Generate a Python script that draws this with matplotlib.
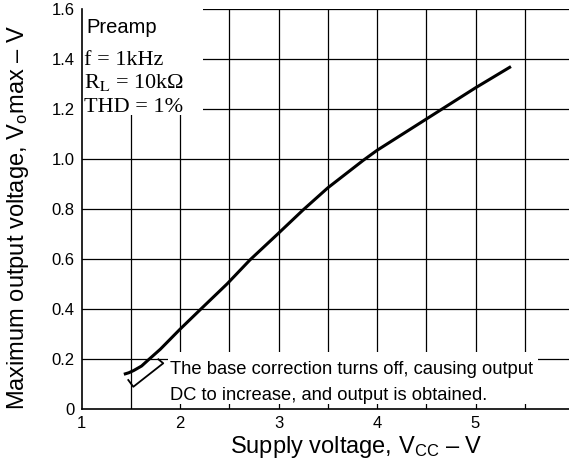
import matplotlib
matplotlib.use('Agg')
import matplotlib.pyplot as plt
from matplotlib.patches import Rectangle

# ---- data ----
vcc = [1.43, 1.48, 1.53, 1.61, 1.68, 1.80, 1.90, 2.00, 2.21, 2.48, 2.71, 2.99,
       3.25, 3.50, 3.86, 4.00, 4.32, 4.62, 5.00, 5.36]
vomax = [0.140, 0.146, 0.155, 0.173, 0.198, 0.240, 0.280, 0.320, 0.400, 0.502,
         0.597, 0.700, 0.797, 0.885, 0.995, 1.035, 1.115, 1.190, 1.285, 1.370]
x_ticks = [1, 2, 3, 4, 5, 6]
x_ticklabels = ['1', '2', '3', '4', '5', '6']
y_ticks = [0, 0.2, 0.4, 0.6, 0.8, 1.0, 1.2, 1.4, 1.6]
y_ticklabels = ['0', '0.2', '0.4', '0.6', '0.8', '1.0', '1.2', '1.4', '1.6']
x_grid = [1.5, 2.0, 2.5, 3.0, 3.5, 4.0, 4.5, 5.0, 5.5, 6.0]
y_grid = [0.2, 0.4, 0.6, 0.8, 1.0, 1.2, 1.4, 1.6]

# annotation bracket (decoration)
bracket_x = [1.475, 1.526, 1.830, 1.780]
bracket_y = [0.117, 0.090, 0.184, 0.200]

plt.rcParams['font.family'] = ['Liberation Sans', 'DejaVu Sans']
plt.rcParams['mathtext.fontset'] = 'custom'
plt.rcParams['mathtext.rm'] = 'Liberation Sans'
plt.rcParams['mathtext.it'] = 'Liberation Sans:italic'

W, H = 569, 463
fig = plt.figure(figsize=(W / 100, H / 100), dpi=100)
ax = fig.add_axes([81.5 / W, (H - 409.3) / H, 492.5 / W, 400.3 / H])
ax.set_xlim(1, 6)
ax.set_ylim(0, 1.6)

for gx in x_grid:
    ax.axvline(gx, color='black', lw=0.9, zorder=1)
for gy in y_grid:
    ax.axhline(gy, color='black', lw=0.9, zorder=1)

# white areas behind text blocks
ax.add_patch(Rectangle((1.0, 1.177), 1.234, 0.45, facecolor='white',
                       edgecolor='none', zorder=2))
ax.add_patch(Rectangle((1.878, 0.021), 3.756, 0.208, facecolor='white',
                       edgecolor='none', zorder=2))

ax.plot(vcc, vomax, color='black', lw=2.2, solid_capstyle='butt',
        solid_joinstyle='round', zorder=4)
ax.plot(bracket_x, bracket_y, color='black', lw=1.3, zorder=4)

ax.set_xticks(x_ticks)
ax.set_xticklabels(x_ticklabels)
ax.set_yticks(y_ticks)
ax.set_yticklabels(y_ticklabels)
ax.tick_params(length=0, labelsize=12, pad=5)
for s in ['top', 'right']:
    ax.spines[s].set_visible(False)
for s in ['left', 'bottom']:
    ax.spines[s].set_linewidth(1.2)

def px(x, y):
    return x / W, (H - y) / H

# axis labels
fig.text(*px(356, 453), 'Supply voltage, V$_{\\mathrm{CC}}$ – V', fontsize=17,
         ha='center', va='baseline')
fig.text(*px(18.5, 217.5), 'Maximum output voltage, V$_{\\mathrm{o}}$max – V',
         fontsize=17, rotation=90, ha='center', va='center')

# partially cut title (only descenders visible at the top edge)
fig.text(322 / W, 1 + 3.0 / H, 'Maximum output voltage – V$_{\\mathrm{CC}}$',
         fontsize=12, ha='right', va='baseline')

# parameter block
fig.text(*px(86, 33), 'Preamp', fontsize=14.5, ha='left', va='baseline')
serif = ['Liberation Serif', 'DejaVu Serif']
fig.text(*px(84, 65), 'f = 1kHz', fontsize=16, family=serif,
         ha='left', va='baseline')
fig.text(*px(84, 88), 'R$_{\\mathrm{L}}$ = 10kΩ', fontsize=16, family=serif,
         math_fontfamily='stix', ha='left', va='baseline')
fig.text(*px(84, 112), 'THD = 1%', fontsize=16, family=serif,
         ha='left', va='baseline')

# annotation
fig.text(*px(170, 374), 'The base correction turns off, causing output',
         fontsize=13.2, ha='left', va='baseline')
fig.text(*px(170, 400), 'DC to increase, and output is obtained.',
         fontsize=13.2, ha='left', va='baseline')

fig.savefig('out.png', dpi=100)
